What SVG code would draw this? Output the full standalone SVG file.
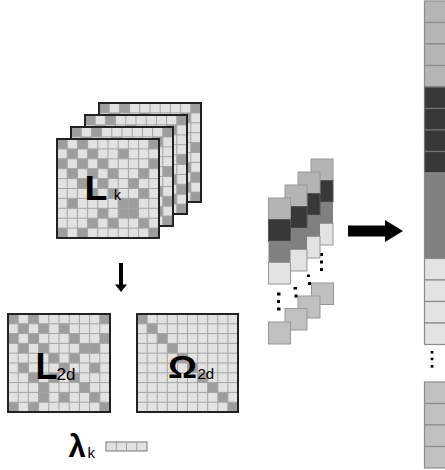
<svg xmlns="http://www.w3.org/2000/svg" xmlns:xlink="http://www.w3.org/1999/xlink" width="445" height="470" viewBox="0 0 445 470">
<style>
.lt{fill:#e2e2e2}
.dk{fill:#9d9d9d}
.gl{fill:none;stroke:#a4a4a4;stroke-width:1;vector-effect:non-scaling-stroke}
.bd{fill:none;stroke:#222;stroke-width:2;vector-effect:non-scaling-stroke}
.txt{font-family:"Liberation Sans",Arial,sans-serif;fill:#000}
.big{font-weight:bold}
.cA{fill:#b4b4b4;stroke:#979797;stroke-width:1}
.cB{fill:#383838;stroke:#555;stroke-width:1}
.cC{fill:#808080}
.cD{fill:#e3e3e3;stroke:#979797;stroke-width:1}
.sq{fill:#c0c0c0;stroke:#979797;stroke-width:1}
.dot{fill:#000}
.vA{fill:#b5b5b5;stroke:#8c8c8c;stroke-width:1.2}
.vB{fill:#383838;stroke:#737373;stroke-width:1.2}
.vC{fill:#808080;stroke:#8c8c8c;stroke-width:1.2}
.vD{fill:#e3e3e3;stroke:#8c8c8c;stroke-width:1.2}
.vE{fill:#c0c0c0;stroke:#8c8c8c;stroke-width:1.2}
</style>
<defs>
<path id="grid" class="gl" d="M10 0V100M20 0V100M30 0V100M40 0V100M50 0V100M60 0V100M70 0V100M80 0V100M90 0V100M0 10H100M0 20H100M0 30H100M0 40H100M0 50H100M0 60H100M0 70H100M0 80H100M0 90H100"/>
<path id="patA" class="dk" d="M0 0h10v10h-10zM20 0h10v10h-10zM90 0h10v10h-10zM10 10h10v10h-10zM30 10h10v10h-10zM60 10h10v10h-10zM0 20h10v10h-10zM20 20h10v10h-10zM40 20h10v10h-10zM90 20h10v10h-10zM10 30h10v10h-10zM30 30h10v10h-10zM50 30h10v10h-10zM80 30h10v10h-10zM20 40h10v10h-10zM40 40h10v10h-10zM70 40h10v10h-10zM30 50h10v10h-10zM50 50h10v10h-10zM80 50h10v10h-10zM10 60h10v10h-10zM60 60h10v10h-10zM70 60h10v10h-10zM40 70h10v10h-10zM60 70h10v10h-10zM70 70h10v10h-10zM30 80h10v10h-10zM50 80h10v10h-10zM80 80h10v10h-10zM0 90h10v10h-10zM20 90h10v10h-10zM90 90h10v10h-10z"/>
<path id="patB" class="dk" d="M0 0h10v10h-10zM20 0h10v10h-10zM90 0h10v10h-10zM10 10h10v10h-10zM40 10h10v10h-10zM80 10h10v10h-10zM90 40h10v10h-10zM90 70h10v10h-10zM80 60h10v10h-10zM90 90h10v10h-10zM0 20h10v10h-10zM20 20h10v10h-10zM60 20h10v10h-10zM30 30h10v10h-10zM50 30h10v10h-10zM40 40h10v10h-10zM50 50h10v10h-10zM60 60h10v10h-10zM70 70h10v10h-10zM80 80h10v10h-10z"/>
</defs>

<g id="Lk-stack">
  <g id="Lk-layer-4" transform="translate(99 103) scale(1.02 0.99)">
    <rect class="lt" width="100" height="100"/><use xlink:href="#patB"/><use xlink:href="#grid"/><rect class="bd" width="100" height="100"/>
  </g>
  <g id="Lk-layer-3" transform="translate(85 115) scale(1.02 0.99)">
    <rect class="lt" width="100" height="100"/><use xlink:href="#patB"/><use xlink:href="#grid"/><rect class="bd" width="100" height="100"/>
  </g>
  <g id="Lk-layer-2" transform="translate(71 127) scale(1.02 0.99)">
    <rect class="lt" width="100" height="100"/><use xlink:href="#patB"/><use xlink:href="#grid"/><rect class="bd" width="100" height="100"/>
  </g>
  <g id="Lk-layer-1" transform="translate(57 139) scale(1.02 0.99)">
    <rect class="lt" width="100" height="100"/><use xlink:href="#patA"/><use xlink:href="#grid"/><rect class="bd" width="100" height="100"/>
  </g>
  <text class="txt big" x="84.6" y="200" font-size="35" textLength="23" lengthAdjust="spacingAndGlyphs">L</text>
  <text class="txt" x="114" y="200" font-size="14">k</text>
</g>

<g id="L2d">
  <g transform="translate(8 314) scale(1.02 0.98)">
    <rect class="lt" width="100" height="100"/>
    <path class="dk" d="M0 0h10v10h-10zM20 0h10v10h-10zM90 0h10v10h-10zM10 10h10v10h-10zM30 10h10v10h-10zM50 10h10v10h-10zM0 20h10v10h-10zM20 20h10v10h-10zM60 20h10v10h-10zM90 20h10v10h-10zM10 30h10v10h-10zM30 30h10v10h-10zM70 30h10v10h-10zM80 30h10v10h-10zM40 40h10v10h-10zM60 40h10v10h-10zM10 50h10v10h-10zM50 50h10v10h-10zM80 50h10v10h-10zM20 60h10v10h-10zM40 60h10v10h-10zM60 60h10v10h-10zM30 70h10v10h-10zM70 70h10v10h-10zM30 80h10v10h-10zM50 80h10v10h-10zM80 80h10v10h-10zM0 90h10v10h-10zM20 90h10v10h-10zM90 90h10v10h-10z"/>
    <use xlink:href="#grid"/>
    <rect class="bd" width="100" height="100"/>
  </g>
  <text class="txt big" x="35.6" y="379" font-size="36" textLength="22" lengthAdjust="spacingAndGlyphs">L</text>
  <text class="txt" x="56.5" y="380" font-size="17">2d</text>
</g>

<g id="Omega2d">
  <g transform="translate(137 314) scale(1.01 0.98)">
    <rect class="lt" width="100" height="100"/>
    <path class="dk" d="M0 0h10v10h-10zM10 10h10v10h-10zM20 20h10v10h-10zM30 30h10v10h-10zM40 40h10v10h-10zM50 50h10v10h-10zM60 60h10v10h-10zM70 70h10v10h-10zM80 80h10v10h-10zM90 90h10v10h-10z"/>
    <use xlink:href="#grid"/>
    <rect class="bd" width="100" height="100"/>
  </g>
  <text class="txt big" x="168" y="378" font-size="32" textLength="29" lengthAdjust="spacingAndGlyphs">Ω</text>
  <text class="txt" x="197.5" y="379" font-size="15">2d</text>
</g>

<g id="lambda">
  <text class="txt big" x="68.5" y="456.5" font-size="31">λ</text>
  <text class="txt" x="87.5" y="458" font-size="15">k</text>
  <g>
    <rect x="106" y="442" width="41" height="9" fill="#e2e2e2" stroke="#8a8a8a" stroke-width="1.2"/>
    <path d="M116.25 442V451M126.5 442V451M136.75 442V451" stroke="#a0a0a0" stroke-width="1"/>
  </g>
</g>

<g id="columns">
  <g id="col-4">
    <rect class="cA" x="311" y="159" width="22" height="21.5"/>
    <rect class="cB" x="311" y="180.5" width="22" height="21.5"/>
    <rect class="cC" x="311" y="202" width="22" height="21.5"/>
    <rect class="cD" x="311" y="223.5" width="22" height="21.5"/>
    <rect class="dot" x="320" y="253" width="3" height="3"/>
    <rect class="dot" x="320" y="260.5" width="3" height="3"/>
    <rect class="dot" x="320" y="268" width="3" height="3"/>
    <rect class="sq" x="311.5" y="283" width="22" height="21.5"/>
  </g>
  <g id="col-3">
    <rect class="cA" x="298" y="172" width="22" height="21.5"/>
    <rect class="cB" x="298" y="193.5" width="22" height="21.5"/>
    <rect class="cC" x="298" y="215" width="22" height="21.5"/>
    <rect class="cD" x="298" y="236.5" width="22" height="21.5"/>
    <rect class="dot" x="307" y="274.5" width="3" height="2.5"/>
    <rect class="dot" x="308" y="282" width="3" height="3"/>
    <rect class="sq" x="298" y="296" width="22" height="22"/>
  </g>
  <g id="col-2">
    <rect class="cA" x="285" y="185" width="22" height="21.5"/>
    <rect class="cB" x="285" y="206.5" width="22" height="21.5"/>
    <rect class="cC" x="285" y="228" width="22" height="21.5"/>
    <rect class="cD" x="285" y="249.5" width="22" height="21.5"/>
    <rect class="dot" x="293.5" y="287" width="3.5" height="2.5"/>
    <rect class="dot" x="294.5" y="294.5" width="3" height="3"/>
    <rect class="sq" x="285" y="308.5" width="22" height="21.5"/>
  </g>
  <g id="col-1">
    <rect class="cA" x="268.5" y="198" width="22" height="21.5"/>
    <rect class="cB" x="268.5" y="219.5" width="22" height="21.5"/>
    <rect class="cC" x="268.5" y="241" width="22" height="21.5"/>
    <rect class="cD" x="268.5" y="262.5" width="22" height="21.5"/>
    <rect class="dot" x="277" y="292.5" width="3.5" height="3"/>
    <rect class="dot" x="277" y="300" width="3" height="3"/>
    <rect class="dot" x="277" y="307.5" width="3.5" height="3"/>
    <rect class="sq" x="268.5" y="322" width="22" height="22"/>
  </g>
</g>

<g id="vector">
  <rect class="vA" x="424.5" y="1" width="25" height="21.5"/>
  <rect class="vA" x="424.5" y="22.5" width="25" height="21.5"/>
  <rect class="vA" x="424.5" y="44" width="25" height="21.5"/>
  <rect class="vA" x="424.5" y="65.5" width="25" height="21.5"/>
  <rect class="vB" x="424.5" y="87" width="25" height="21.5"/>
  <rect class="vB" x="424.5" y="108.5" width="25" height="21.5"/>
  <rect class="vB" x="424.5" y="130" width="25" height="21.5"/>
  <rect class="vB" x="424.5" y="151.5" width="25" height="21.5"/>
  <rect class="vC" x="424.5" y="173" width="25" height="85.5"/>
  <rect class="vD" x="424.5" y="258.5" width="25" height="21.5"/>
  <rect class="vD" x="424.5" y="280" width="25" height="21.5"/>
  <rect class="vD" x="424.5" y="301.5" width="25" height="21.5"/>
  <rect class="vD" x="424.5" y="323" width="25" height="21.5"/>
  <rect class="dot" x="430.7" y="351" width="2.7" height="2.5"/>
  <rect class="dot" x="430.7" y="357.7" width="2.7" height="2.5"/>
  <rect class="dot" x="430.7" y="365" width="2.7" height="2.7"/>
  <rect class="vE" x="424.5" y="382" width="25" height="21.5"/>
  <rect class="vE" x="424.5" y="403.5" width="25" height="21.5"/>
  <rect class="vE" x="424.5" y="425" width="25" height="21.5"/>
  <rect class="vE" x="424.5" y="446.5" width="25" height="21.5"/>
</g>

<g id="connectors">
  <path id="arrow-down" d="M119 263H123V284.5H127L121 292L115 284.5H119Z" fill="#000"/>
  <path id="arrow-right" d="M348 225.5H385V220L403 231L385 242V236.5H348Z" fill="#000"/>
</g>
</svg>
